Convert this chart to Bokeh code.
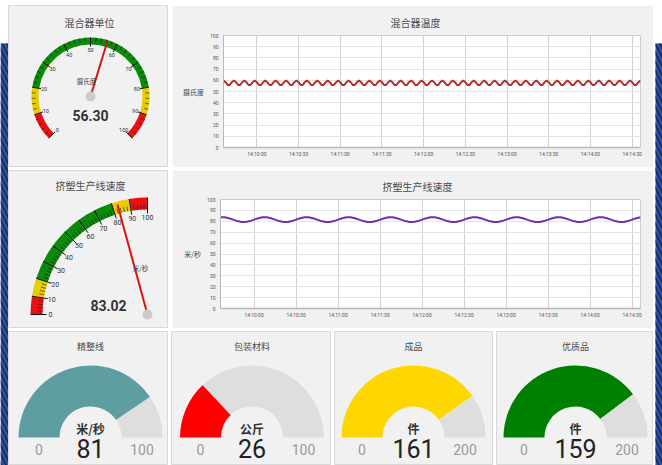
import math
import pandas as pd
from bokeh.plotting import figure
from bokeh.layouts import row, column
from bokeh.models import Range1d, Label, FixedTicker, DatetimeTickFormatter, Spacer
from bokeh.core.properties import value
from bokeh.embed import file_html
from bokeh.resources import INLINE

CJK = "Noto Sans CJK SC"
NUM = "Roboto"

# ---------------- data ----------------
dial_ticks = [0, 10, 20, 30, 40, 50, 60, 70, 80, 90, 100]
dial_bands = [0, 10, 20, 80, 90, 100]
dial_band_colors = ["#e81010", "#e8cc00", "#0b8a0b", "#e8cc00", "#e81010"]

mixer_title = "混合器单位"
mixer_unit = "摄氏度"
mixer_value = 56.30

extruder_title = "挤塑生产线速度"
extruder_unit = "米/秒"
extruder_value = 83.02

temp_title = "混合器温度"
temp_axis = "摄氏度"
temp_start = "2024-01-01 14:09:36"
temp_step = "1500ms"
temp_values = [
    59.8, 58.3, 55.8, 55.8, 58.3, 59.8, 58.3, 55.8, 55.8, 58.3,
    59.8, 58.3, 55.8, 55.8, 58.3, 59.8, 58.3, 55.8, 55.8, 58.3,
    59.8, 58.3, 55.8, 55.8, 58.3, 59.8, 58.3, 55.8, 55.8, 58.3,
    59.8, 58.3, 55.8, 55.8, 58.3, 59.8, 58.3, 55.8, 55.8, 58.3,
    59.8, 58.3, 55.8, 55.8, 58.3, 59.8, 58.3, 55.8, 55.8, 58.3,
    59.8, 58.3, 55.8, 55.8, 58.3, 59.8, 58.3, 55.8, 55.8, 58.3,
    59.8, 58.3, 55.8, 55.8, 58.3, 59.8, 58.3, 55.8, 55.8, 58.3,
    59.8, 58.3, 55.8, 55.8, 58.3, 59.8, 58.3, 55.8, 55.8, 58.3,
    59.8, 58.3, 55.8, 55.8, 58.3, 59.8, 58.3, 55.8, 55.8, 58.3,
    59.8, 58.3, 55.8, 55.8, 58.3, 59.8, 58.3, 55.8, 55.8, 58.3,
    59.8, 58.3, 55.8, 55.8, 58.3, 59.8, 58.3, 55.8, 55.8, 58.3,
    59.8, 58.3, 55.8, 55.8, 58.3, 59.8, 58.3, 55.8, 55.8, 58.3,
    59.8, 58.3, 55.8, 55.8, 58.3, 59.8, 58.3, 55.8, 55.8, 58.3,
    59.8, 58.3, 55.8, 55.8, 58.3, 59.8, 58.3, 55.8, 55.8, 58.3,
    59.8, 58.3, 55.8, 55.8, 58.3, 59.8, 58.3, 55.8, 55.8, 58.3,
    59.8, 58.3, 55.8, 55.8, 58.3, 59.8, 58.3, 55.8, 55.8, 58.3,
    59.8, 58.3, 55.8, 55.8, 58.3, 59.8, 58.3, 55.8, 55.8, 58.3,
    59.8, 58.3, 55.8, 55.8, 58.3, 59.8, 58.3, 55.8, 55.8, 58.3,
    59.8, 58.3, 55.8, 55.8, 58.3, 59.8, 58.3, 55.8, 55.8, 58.3,
    59.8, 58.3, 55.8, 55.8, 58.3, 59.8, 58.3, 55.8, 55.8, 58.3,
    59.8,
]

speed_title = "挤塑生产线速度"
speed_axis = "米/秒"
speed_start = "2024-01-01 14:09:36"
speed_step = "3s"
speed_values = [
    83.7, 83.7, 82.8, 81.5, 80.2, 79.4, 79.4, 80.2, 81.5, 82.8,
    83.7, 83.7, 82.8, 81.5, 80.2, 79.4, 79.4, 80.2, 81.5, 82.8,
    83.7, 83.7, 82.8, 81.5, 80.2, 79.4, 79.4, 80.2, 81.5, 82.8,
    83.7, 83.7, 82.8, 81.5, 80.2, 79.4, 79.4, 80.2, 81.5, 82.8,
    83.7, 83.7, 82.8, 81.5, 80.2, 79.4, 79.4, 80.2, 81.5, 82.8,
    83.7, 83.7, 82.8, 81.5, 80.2, 79.4, 79.4, 80.2, 81.5, 82.8,
    83.7, 83.7, 82.8, 81.5, 80.2, 79.4, 79.4, 80.2, 81.5, 82.8,
    83.7, 83.7, 82.8, 81.5, 80.2, 79.4, 79.4, 80.2, 81.5, 82.8,
    83.7, 83.7, 82.8, 81.5, 80.2, 79.4, 79.4, 80.2, 81.5, 82.8,
    83.7, 83.7, 82.8, 81.5, 80.2, 79.4, 79.4, 80.2, 81.5, 82.8,
    83.7,
]

x_day = "2024-01-01"
x_start = "14:09:36"
x_end = "14:14:36"
time_ticks = ["14:10:00", "14:10:30", "14:11:00", "14:11:30", "14:12:00",
              "14:12:30", "14:13:00", "14:13:30", "14:14:00", "14:14:30"]
y_ticks = [0, 10, 20, 30, 40, 50, 60, 70, 80, 90, 100]

solid_titles = ["精整线", "包装材料", "成品", "优质品"]
solid_units = ["米/秒", "公斤", "件", "件"]
solid_values = [81, 26, 161, 159]
solid_max = [100, 100, 200, 200]
solid_colors = ["#5f9ea0", "#ff0000", "#ffd700", "#008000"]

# ---------------- styling helpers ----------------
BG = "#f1f1f1"
EDGE = "#d8d8d8"


def panel(w, h, bg=BG, edge=EDGE):
    p = figure(width=w, height=h, x_range=Range1d(0, w), y_range=Range1d(0, h),
               x_axis_type=None, y_axis_type=None, min_border=0,
               toolbar_location=None, output_backend="svg", frame_align=False,
               background_fill_color=bg, border_fill_color=bg,
               outline_line_color=edge)
    p.grid.visible = False
    return p


def label(p, x, y, s, size, color="#444444", font=CJK, bold=False, align="center"):
    p.add_layout(Label(x=x, y=y, text=s, text_font=font, text_font_size=f"{size}px",
                       text_color=color, text_font_style="bold" if bold else "normal",
                       text_align=align, text_baseline="middle"))


def dial(p, cx, cy, a0, sweep, r_in, r_out, r_lab, lab_size, needle_len,
         major_in, minor_r0, minor_r1, val):
    def ang(v):
        return math.radians(a0 - sweep * v / 100.0)

    n = len(dial_band_colors)
    p.annular_wedge(x=[cx] * n, y=[cy] * n, inner_radius=r_in, outer_radius=r_out,
                    start_angle=[ang(b) for b in dial_bands[1:]],
                    end_angle=[ang(b) for b in dial_bands[:-1]],
                    fill_color=dial_band_colors, line_color=None)
    minor = [v for v in range(0, 101, 2) if v % 10]
    p.segment(x0=[cx + minor_r0 * math.cos(ang(v)) for v in minor],
              y0=[cy + minor_r0 * math.sin(ang(v)) for v in minor],
              x1=[cx + minor_r1 * math.cos(ang(v)) for v in minor],
              y1=[cy + minor_r1 * math.sin(ang(v)) for v in minor],
              line_color="#1a1a1a", line_width=0.6)
    p.segment(x0=[cx + major_in * math.cos(ang(v)) for v in dial_ticks],
              y0=[cy + major_in * math.sin(ang(v)) for v in dial_ticks],
              x1=[cx + r_out * math.cos(ang(v)) for v in dial_ticks],
              y1=[cy + r_out * math.sin(ang(v)) for v in dial_ticks],
              line_color="#111111", line_width=1)
    p.text(x=[cx + r_lab * math.cos(ang(v)) for v in dial_ticks],
           y=[cy + r_lab * math.sin(ang(v)) for v in dial_ticks],
           text=[str(v) for v in dial_ticks],
           text_font=value(NUM), text_font_size=value(f"{lab_size}px"),
           text_color="#333333", text_align="center", text_baseline="middle")
    a = ang(val)
    p.segment(x0=[cx], y0=[cy], x1=[cx + needle_len * math.cos(a)],
              y1=[cy + needle_len * math.sin(a)], line_color="#dd1111", line_width=2)
    p.circle(x=[cx], y=[cy], radius=5, fill_color="#cccccc", line_color=None)


def ms(s):
    return (pd.Timestamp(s) - pd.Timestamp("1970-01-01")).total_seconds() * 1000.0


def line_panel(w, h, title, ylab, start, step, vals, color, bl, br, bt, bb, toff):
    p = figure(width=w, height=h, x_axis_type="datetime",
               x_range=Range1d(ms(f"{x_day} {x_start}"), ms(f"{x_day} {x_end}")),
               y_range=Range1d(0, 100),
               toolbar_location=None, output_backend="svg", frame_align=False,
               min_border_left=bl, min_border_right=br,
               min_border_top=bt, min_border_bottom=bb,
               background_fill_color="white", border_fill_color=BG,
               outline_line_color="#cccccc")
    xs = pd.date_range(start, periods=len(vals), freq=step)
    p.line(x=xs, y=vals, line_color=color, line_width=2)

    p.title.text = title
    p.title.align = "left"
    p.title.offset = toff
    p.title.standoff = 12
    p.title.text_font = CJK
    p.title.text_font_size = "10px"
    p.title.text_font_style = "normal"
    p.title.text_color = "#4a4a4a"

    p.yaxis.ticker = FixedTicker(ticks=y_ticks)
    p.xaxis.ticker = FixedTicker(ticks=[ms(f"{x_day} {t}") for t in time_ticks])
    fmt = "%H:%M:%S"
    p.xaxis.formatter = DatetimeTickFormatter(milliseconds=fmt, seconds=fmt, minsec=fmt,
                                              minutes=fmt, hourmin=fmt, hours=fmt)
    for ax in (p.xaxis, p.yaxis):
        ax.major_label_text_font = NUM
        ax.major_label_text_font_size = "5px"
        ax.major_label_text_color = "#555555"
        ax.major_tick_out = 0
        ax.major_tick_in = 0
        ax.minor_tick_out = 0
        ax.minor_tick_in = 0
        ax.axis_line_color = "#b8b8b8"
    p.yaxis.major_label_standoff = 5
    p.xaxis.major_label_standoff = 3
    p.xaxis.axis_line_width = 1.5
    p.yaxis.axis_label = ylab
    p.yaxis.axis_label_orientation = "horizontal"
    p.yaxis.axis_label_text_font = CJK
    p.yaxis.axis_label_text_font_size = "7px"
    p.yaxis.axis_label_text_font_style = "normal"
    p.yaxis.axis_label_text_color = "#444444"
    p.yaxis.axis_label_standoff = 3
    p.xgrid.grid_line_color = "#d2d2d2"
    p.ygrid.grid_line_color = "#e4e4e4"
    return p


def strip(w, h, x0, white_top):
    p = panel(w, h, bg="white", edge=None)
    p.quad(left=[x0], right=[w], bottom=[0], top=[h - white_top],
           fill_color="#3156a8", line_color=None,
           hatch_pattern="left_diagonal_line", hatch_color="#1a2c63",
           hatch_weight=2, hatch_scale=9)
    return p


# ---------------- row 1 ----------------
g1 = panel(160, 162)
dial(g1, 82, 71, 225, 270, 52, 59, 47, 5.5, 58, 50, 55, 59, mixer_value)
label(g1, 81, 145, mixer_title, 10, "#4a4a4a")
label(g1, 78, 87, mixer_unit, 6.5, "#444444")
label(g1, 82, 52, f"{mixer_value:.2f}", 14, "#333333", NUM, True)

c1 = line_panel(481, 162, temp_title, temp_axis, temp_start, temp_step, temp_values,
                "#b52d2d", 51, 13, 30, 20, 167)

# ---------------- row 2 ----------------
g2 = panel(160, 158)
dial(g2, 139, 14, 180, 90, 105, 117, 97, 7, 114, 101, 105, 110, extruder_value)
label(g2, 82, 143, extruder_title, 10, "#4a4a4a")
label(g2, 132, 61, extruder_unit, 6.5, "#444444")
label(g2, 100, 23, f"{extruder_value:.2f}", 14, "#333333", NUM, True)

c2 = line_panel(481, 158, speed_title, speed_axis, speed_start, speed_step, speed_values,
                "#7232a8", 48, 13, 27, 20, 162)

# ---------------- row 3 ----------------
bottoms = []
for w, cx, t, u, v, vmax, col in zip([160, 160, 159, 157], [82, 80.5, 79, 79],
                                      solid_titles, solid_units, solid_values,
                                      solid_max, solid_colors):
    p = panel(w, 134)
    cy = 28
    a = math.radians(180 - 180.0 * v / vmax)
    p.annular_wedge(x=[cx, cx], y=[cy, cy], inner_radius=31, outer_radius=72,
                    start_angle=[a, 0], end_angle=[math.pi, a],
                    fill_color=[col, "#dedede"], line_color=None)
    label(p, cx, 119, t, 9, "#4a4a4a")
    label(p, cx, 37, u, 12, "#333333", CJK, True)
    label(p, cx, 17, str(v), 25, "#222222", NUM)
    label(p, cx - 51.5, 16, "0", 14, "#9a9a9a", NUM)
    label(p, cx + 51.5, 16, str(vmax), 14, "#9a9a9a", NUM)
    bottoms.append(p)

center = column(Spacer(width=645, height=2),
                row(g1, c1, spacing=4), row(g2, c2, spacing=4),
                row(*bottoms, spacing=3), spacing=3)

layout = row(strip(8, 465, 0, 43), center, strip(9, 465, 2, 43), spacing=0)

open("out.html", "w").write(file_html(layout, INLINE))
